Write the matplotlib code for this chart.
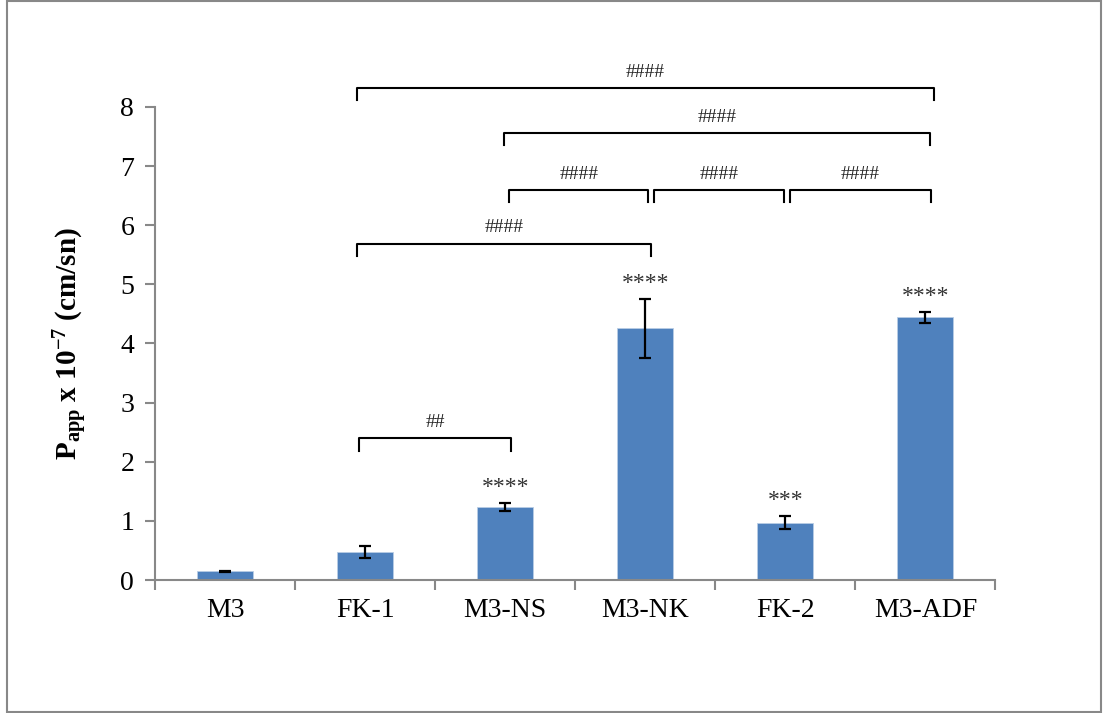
import numpy as np
import matplotlib
matplotlib.use("Agg")
import matplotlib.pyplot as plt
from matplotlib.patches import Rectangle

plt.rcParams['font.family'] = ['Liberation Serif', 'DejaVu Serif']
plt.rcParams['mathtext.fontset'] = 'custom'
plt.rcParams['mathtext.rm'] = 'Liberation Serif'
plt.rcParams['mathtext.bf'] = 'Liberation Serif:bold'
plt.rcParams['mathtext.it'] = 'Liberation Serif:italic'

groups = ['M3', 'FK-1', 'M3-NS', 'M3-NK', 'FK-2', 'M3-ADF']
papp = [0.15, 0.47, 1.23, 4.26, 0.97, 4.44]
papp_err = [0.01, 0.10, 0.07, 0.50, 0.11, 0.10]
stars = ['', '', '****', '****', '***', '****']

# comparisons: (left group, right group, bracket height, label)
comparisons = [
    (1, 2, 2.40, '##'),
    (1, 3, 5.69, '####'),
    (2, 3, 6.60, '####'),
    (3, 4, 6.60, '####'),
    (4, 5, 6.60, '####'),
    (2, 5, 7.56, '####'),
    (1, 5, 8.32, '####'),
]
# small horizontal offsets of the bracket ends, as drawn in the original
bracket_ends = {
    (1, 2): (-0.04, 0.04),
    (1, 3): (-0.06, 0.04),
    (2, 3): (0.03, 0.02),
    (3, 4): (0.06, -0.01),
    (4, 5): (0.03, 0.04),
    (2, 5): (-0.01, 0.03),
    (1, 5): (-0.06, 0.06),
}

fig = plt.figure(figsize=(11.03, 7.13), dpi=100)
ax = fig.add_axes([0.1405, 0.1865, 0.762, 0.6635])

x = np.arange(len(groups))
ax.bar(x, papp, width=0.4, color='#4F81BD', edgecolor='#B9CDE5', linewidth=0.6, zorder=2)
ax.errorbar(x, papp, yerr=papp_err, fmt='none', ecolor='black', elinewidth=1.6,
            capsize=4.3, capthick=1.6, zorder=3)

for xi, v, e, s in zip(x, papp, papp_err, stars):
    if s:
        ax.text(xi, v + e + 0.08, s, ha='center', va='bottom', fontsize=17,
                color='#333333')

for a, b, h, lab in comparisons:
    da, db = bracket_ends[(a, b)]
    xa, xb = a + da, b + db
    ax.plot([xa, xa, xb, xb], [h - 0.21, h, h, h - 0.21], color='black', lw=1.5,
            solid_joinstyle='round', clip_on=False, zorder=4)
    ax.text((xa + xb) / 2, h + 0.12, lab, ha='center', va='bottom', fontsize=14,
            color='#222222', clip_on=False)

ax.set_xlim(-0.5, 5.5)
ax.set_ylim(0, 8)
ax.set_yticks(range(0, 9))
ax.set_xticks(x)
ax.set_xticklabels(groups, fontsize=20)
ax.set_xticks(np.arange(-0.5, 6.0, 1.0), minor=True)
ax.tick_params(axis='x', which='major', length=0, pad=13)
ax.tick_params(axis='x', which='minor', length=7, width=1.5, color='#888888', direction='out')
ax.tick_params(axis='y', labelsize=20, length=7, width=1.5, color='#888888', pad=8)

for side in ['top', 'right']:
    ax.spines[side].set_visible(False)
for side in ['left', 'bottom']:
    ax.spines[side].set_color('#888888')
    ax.spines[side].set_linewidth(1.5)

ax.set_ylabel(r'$\mathbf{P}_{\mathbf{app}}$' + r' x 10$^{\mathbf{-7}}$ (cm/sn)', fontsize=21,
              fontweight='bold', labelpad=22)

# outer frame like the exported chart area
fig.patches.append(Rectangle((0.006, 0.002), 0.992, 0.996, transform=fig.transFigure,
                             fill=False, edgecolor='#888888', linewidth=1.5))

fig.savefig('out.png', dpi=100)
